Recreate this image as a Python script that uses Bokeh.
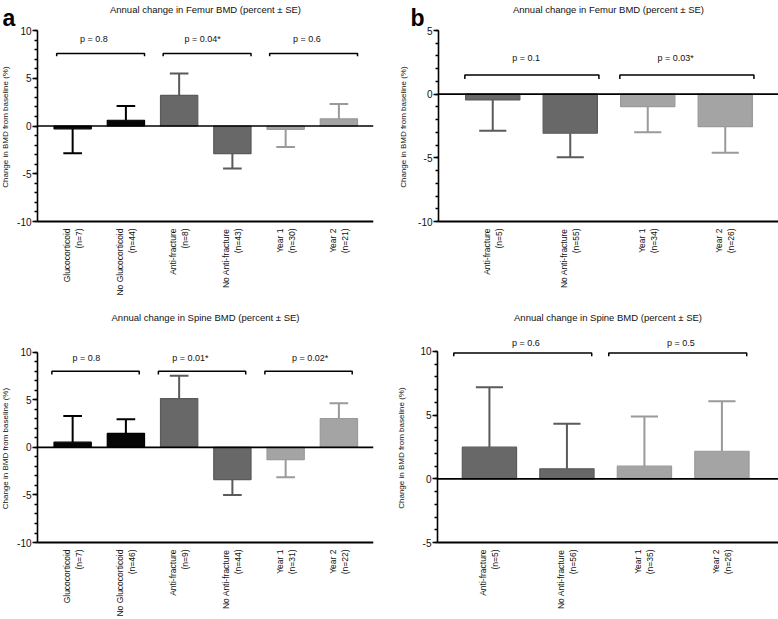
import math
from bokeh.plotting import figure
from bokeh.models import Range1d, FixedTicker, ColumnDataSource
from bokeh.layouts import column, row
from bokeh.embed import file_html
from bokeh.resources import INLINE
from bokeh.core.properties import value

FONT = "Liberation Sans"

# ---------------- data ----------------
groups_a = ["Glucocorticoid", "No Glucocorticoid", "Anti-fracture", "No Anti-fracture", "Year 1", "Year 2"]
groups_b = ["Anti-fracture", "No Anti-fracture", "Year 1", "Year 2"]

femur_a_n = [7, 44, 8, 43, 30, 21]
femur_a_mean = [-0.3, 0.6, 3.2, -2.9, -0.35, 0.75]
femur_a_se = [2.55, 1.5, 2.3, 1.55, 1.85, 1.55]
femur_a_p = ["p = 0.8", "p = 0.04*", "p = 0.6"]

spine_a_n = [7, 46, 9, 44, 31, 22]
spine_a_mean = [0.55, 1.47, 5.13, -3.38, -1.29, 3.04]
spine_a_se = [2.75, 1.5, 2.41, 1.62, 1.85, 1.61]
spine_a_p = ["p = 0.8", "p = 0.01*", "p = 0.02*"]

femur_b_n = [5, 55, 34, 26]
femur_b_mean = [-0.45, -3.07, -0.98, -2.55]
femur_b_se = [2.42, 1.89, 2.02, 2.05]
femur_b_p = ["p = 0.1", "p = 0.03*"]

spine_b_n = [5, 56, 35, 26]
spine_b_mean = [2.48, 0.78, 0.99, 2.16]
spine_b_se = [4.70, 3.53, 3.90, 3.93]
spine_b_p = ["p = 0.6", "p = 0.5"]

TITLE_F = "Annual change in Femur BMD (percent \u00b1 SE)"
TITLE_S = "Annual change in Spine BMD (percent \u00b1 SE)"
YLABEL = "Change in BMD from baseline  (%)"

# ---------------- styles ----------------
BLACK = ("#060606", "#000000")
DARK = ("#686868", "#5a5a5a")
LIGHT = ("#a4a4a4", "#9a9a9a")
shades_a = [BLACK, BLACK, DARK, DARK, LIGHT, LIGHT]
shades_b = [DARK, DARK, LIGHT, LIGHT]

BAR_W = 0.7
CAP = 0.175
EXT = 7  # extra frame pixels below the lowest y tick so its label is not cut


def panel(title, groups, ns, means, ses, shades, pvals, W, H, B, R,
          ax_px, px_per_x, ybounds, ybottom_px, px_per_y, ylabel_standoff,
          bracket_y, bracket_drop, ptext_y, pad, ptext_shift,
          title_px, letter=None, letter_px=None):
    frame_w = W - R
    ax_x = ax_px[0]                                 # data x where the y axis sits
    xs_start = ax_x - ax_px[1] / px_per_x
    xs_end = xs_start + frame_w / px_per_x
    y_base = ybounds[0]
    y_lo = y_base - EXT / px_per_y
    y_hi = y_base + ybottom_px / px_per_y
    p = figure(width=W, height=H, x_range=Range1d(xs_start, xs_end), y_range=Range1d(y_lo, y_hi),
               output_backend="svg", toolbar_location=None,
               min_border_left=0, min_border_right=R, min_border_top=0,
               min_border_bottom=B - EXT, outline_line_color=None)
    p.grid.visible = False

    major = list(range(ybounds[0], ybounds[1] + 1, 5))
    ya = p.yaxis[0]
    ya.fixed_location = ax_x
    ya.ticker = FixedTicker(ticks=major, minor_ticks=list(range(ybounds[0], ybounds[1] + 1)))
    ya.major_label_overrides = {v: str(v) for v in major}
    ya.bounds = ybounds
    ya.axis_line_width = 1.6
    ya.major_tick_in = 0
    ya.major_tick_out = 5
    ya.minor_tick_in = 0
    ya.minor_tick_out = 3
    ya.major_tick_line_width = 1.5
    ya.minor_tick_line_width = 1.4
    ya.minor_tick_line_color = "black"
    ya.major_label_text_font = FONT
    ya.major_label_text_font_size = "10px"
    ya.major_label_text_color = "#111111"
    ya.major_label_standoff = 1
    ya.axis_label = YLABEL
    ya.axis_label_text_font = FONT
    ya.axis_label_text_font_size = "8px"
    ya.axis_label_text_font_style = "normal"
    ya.axis_label_text_color = "#111111"
    ya.axis_label_standoff = ylabel_standoff

    xa = p.xaxis[0]
    xa.bounds = (ax_x, xs_end)
    xa.ticker = FixedTicker(ticks=list(range(len(groups))))
    xa.major_label_overrides = {i: f"{g}\n(n={n})" for i, (g, n) in enumerate(zip(groups, ns))}
    xa.major_label_orientation = math.pi / 2
    xa.major_tick_line_color = None
    xa.minor_tick_line_color = None
    xa.axis_line_color = None
    xa.major_label_text_font = FONT
    xa.major_label_text_font_size = "8.5px"
    xa.major_label_text_color = "#111111"
    xa.major_label_standoff = 1 - EXT

    xs = list(range(len(groups)))
    tips = [m + (s if m >= 0 else -s) for m, s in zip(means, ses)]
    src = ColumnDataSource(dict(
        x=xs, mean=means, tip=tips,
        cl=[x - CAP for x in xs], cr=[x + CAP for x in xs],
        fill=[s[0] for s in shades], line=[s[1] for s in shades]))

    p.segment(x0="x", y0="mean", x1="x", y1="tip", line_color="line", line_width=2, source=src)
    p.segment(x0="cl", y0="tip", x1="cr", y1="tip", line_color="line", line_width=2, source=src)
    p.vbar(x="x", top="mean", bottom=0, width=BAR_W, fill_color="fill", line_color="line",
           line_width=1.2, source=src)
    # zero line and base line from the y axis to the right edge
    p.segment(x0=[ax_x, ax_x], y0=[0, y_base], x1=[xs_end, xs_end], y1=[0, y_base],
              line_color="black", line_width=[1.7, 2.0])

    # brackets and p values: each bracket joins two neighbouring groups
    bxs, bys, tx, ty = [], [], [], []
    for k in range(len(pvals)):
        a, b = 2 * k, 2 * k + 1
        bx0, bx1 = a - pad[0], b + pad[1]
        bxs.append([bx0, bx0, bx1, bx1])
        bys.append([bracket_y - bracket_drop, bracket_y, bracket_y, bracket_y - bracket_drop])
        tx.append((a + b) / 2 + ptext_shift[k])
        ty.append(ptext_y)
    p.multi_line(xs=bxs, ys=bys, line_color="black", line_width=1.5)
    p.text(x=tx, y=ty, text=pvals, text_font=value(FONT), text_font_size=value("9px"),
           text_align="center", text_baseline="middle", text_color="#111111")

    # panel title, centred over the plotting area
    ty_title = y_hi - title_px / px_per_y
    p.text(x=[(ax_x + xs_end) / 2], y=[ty_title], text=[title],
           text_font=value(FONT), text_font_size=value("9.5px"),
           text_align="center", text_baseline="middle", text_color="#111111")

    if letter:
        lx = xs_start + letter_px[0] / px_per_x
        ly = y_hi - letter_px[1] / px_per_y
        p.text(x=[lx], y=[ly], text=[letter], text_font=value(FONT),
               text_font_size=value("23px"), text_font_style="bold",
               text_align="center", text_baseline="alphabetic", text_color="black")
    return p


# W, H, B(bottom border), R(right border), (axis data x, axis pixel x), px per x unit,
# y bounds, pixel of lowest y from top, px per y unit
tl = panel(TITLE_F, groups_a, femur_a_n, femur_a_mean, femur_a_se, shades_a, femur_a_p,
           389, 300, 79, 16, (-0.66, 37), 53.25, (-10, 10), 221, 9.55, 4,
           7.6, 0.3, 9.15, (0.3, 0.35), [-0.1, -0.06, -0.1], 9, "a", (8.5, 17))
tr = panel(TITLE_F, groups_b, femur_b_n, femur_b_mean, femur_b_se, shades_b, femur_b_p,
           389, 300, 79, 0, (-0.70, 49), 77.5, (-10, 5), 221, 12.733, 7,
           1.5, 0.3, 2.85, (0.36, 0.37), [-0.07, -0.14], 9, "b", (28, 17))
bl = panel(TITLE_S, groups_a, spine_a_n, spine_a_mean, spine_a_se, shades_a, spine_a_p,
           389, 319, 76, 16, (-0.66, 37), 53.25, (-10, 10), 243, 9.55, 4,
           8.0, 0.33, 9.45, (0.39, 0.25), [-0.24, -0.29, -0.04], 17)
br = panel(TITLE_S, groups_b, spine_b_n, spine_b_mean, spine_b_se, shades_b, spine_b_p,
           389, 319, 76, 0, (-0.67, 48), 77.5, (-5, 10), 243, 12.8, 11,
           9.87, 0.26, 10.68, (0.46, 0.32), [-0.03, -0.03], 17)

layout = column(row(tl, tr), row(bl, br))
open("out.html", "w").write(file_html(layout, INLINE))
